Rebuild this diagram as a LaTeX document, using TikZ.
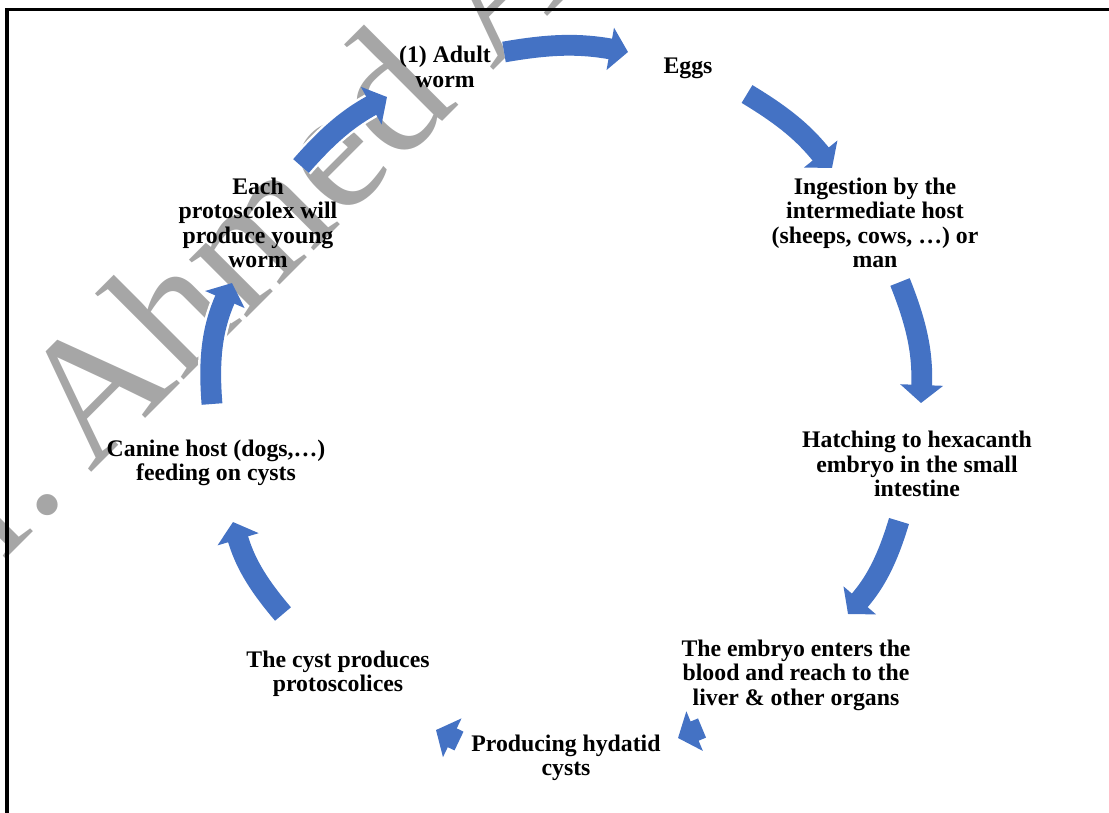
\documentclass[tikz,border=0pt]{standalone}
\usepackage{fontspec}
\setmainfont{Liberation Serif}
\usetikzlibrary{arrows.meta}
\definecolor{arrowblue}{RGB}{68,114,196}
\definecolor{wmgray}{RGB}{166,166,166}
\tikzset{
  lbl/.style={font=\bfseries\fontsize{16.9pt}{17.4pt}\selectfont, align=center, inner sep=0pt},
  flow/.style={draw=arrowblue, line width=0.52cm, -{Triangle[length=0.45cm,width=1.05cm]},
    preaction={draw=white, line width=0.64cm, arrows=-, shorten >=0.45cm}},
  wmark/.style={text=wmgray, font=\fontsize{126.5pt}{126.5pt}\selectfont, inner sep=0pt},
}

\begin{document}
\begin{tikzpicture}[x=0.025cm,y=-0.025cm]
  \useasboundingbox (0,0) rectangle (1109,812);
  \clip (0,0) rectangle (1109,812);
  \node[wmark, rotate=45, anchor=base west] (wm) at (-88,652) {Dr.\,Ahmed A};
  \draw[line width=0.075cm] (7,830) |- (1130,9);

  \node[lbl] (adult) at (445,67) {(1) Adult\\worm};
  \node[lbl] (eggs) at (688,68) {Eggs};
  \node[lbl] (ingest) at (875,223) {Ingestion by the\\intermediate host\\(sheeps, cows, …) or\\man};
  \node[lbl] (hatch) at (917,464) {Hatching to hexacanth\\embryo in the small\\intestine};
  \node[lbl] (blood) at (796,675) {The embryo enters the\\blood and reach to the\\liver \& other organs};
  \node[lbl] (hydatid) at (566,758) {Producing hydatid\\cysts};
  \node[lbl] (cyst) at (338,674) {The cyst produces\\protoscolices};
  \node[lbl] (canine) at (216,463) {Canine host (dogs,…)\\feeding on cysts};
  \node[lbl] (proto) at (258,223) {Each\\protoscolex will\\produce young\\worm};

  \coordinate (s1) at (504,52);  \coordinate (e1) at (628,52);
  \coordinate (s2) at (747,94);  \coordinate (e2) at (832,168);
  \coordinate (s3) at (900,282); \coordinate (e3) at (921,403);
  \coordinate (s4) at (899,521); \coordinate (e4) at (848,614);
  \coordinate (s5) at (702,728); \coordinate (e5) at (678,738);
  \coordinate (s6) at (459,741); \coordinate (e6) at (436,730);
  \coordinate (s7) at (283,614); \coordinate (e7) at (233,522);
  \coordinate (s8) at (212,404); \coordinate (e8) at (232,283);
  \coordinate (s9) at (301,166); \coordinate (e9) at (387,97);
  \foreach \i/\b in {1/10,2/10,3/12,4/12,5/0,6/0,7/12,8/14,9/10}
    \draw[flow] (s\i) to[bend left=\b] (e\i);
\end{tikzpicture}
\end{document}
